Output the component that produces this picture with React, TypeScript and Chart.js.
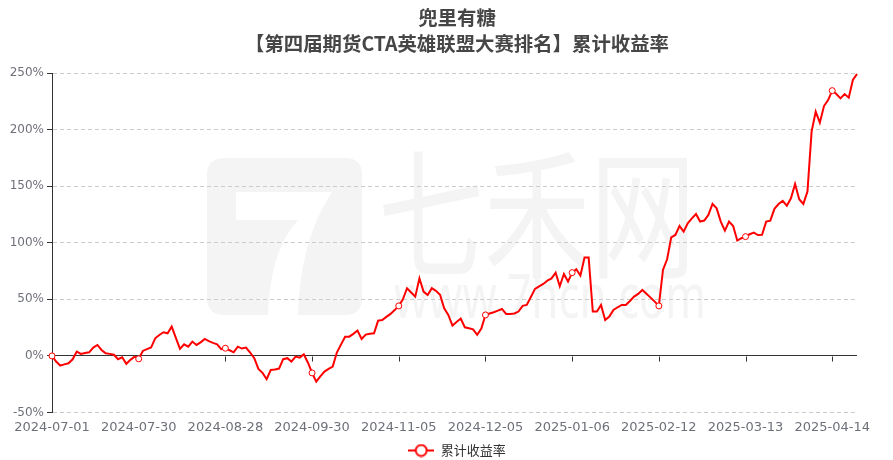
import { useEffect, useRef } from "react";
import { Chart, registerables } from "chart.js";

Chart.register(...registerables);

const TITLE_LINES = ["兜里有糖", "【第四届期货CTA英雄联盟大赛排名】累计收益率"];
const SERIES_NAME = "累计收益率";
const WATERMARK_CN = "七禾网";
const WATERMARK_URL = "www.7hcn.com";

const DATES = [
  "2024-07-01","2024-07-02","2024-07-03","2024-07-04","2024-07-05","2024-07-08","2024-07-09","2024-07-10","2024-07-11","2024-07-12",
  "2024-07-15","2024-07-16","2024-07-17","2024-07-18","2024-07-19","2024-07-22","2024-07-23","2024-07-24","2024-07-25","2024-07-26",
  "2024-07-29","2024-07-30","2024-07-31","2024-08-01","2024-08-02","2024-08-05","2024-08-06","2024-08-07","2024-08-08","2024-08-09",
  "2024-08-12","2024-08-13","2024-08-14","2024-08-15","2024-08-16","2024-08-19","2024-08-20","2024-08-21","2024-08-22","2024-08-23",
  "2024-08-26","2024-08-27","2024-08-28","2024-08-29","2024-08-30","2024-09-02","2024-09-03","2024-09-04","2024-09-05","2024-09-06",
  "2024-09-09","2024-09-10","2024-09-11","2024-09-12","2024-09-13","2024-09-18","2024-09-19","2024-09-20","2024-09-23","2024-09-24",
  "2024-09-25","2024-09-26","2024-09-27","2024-09-30","2024-10-08","2024-10-09","2024-10-10","2024-10-11","2024-10-14","2024-10-15",
  "2024-10-16","2024-10-17","2024-10-18","2024-10-21","2024-10-22","2024-10-23","2024-10-24","2024-10-25","2024-10-28","2024-10-29",
  "2024-10-30","2024-10-31","2024-11-01","2024-11-04","2024-11-05","2024-11-06","2024-11-07","2024-11-08","2024-11-11","2024-11-12",
  "2024-11-13","2024-11-14","2024-11-18","2024-11-19","2024-11-20","2024-11-21","2024-11-22","2024-11-25","2024-11-26","2024-11-27",
  "2024-11-28","2024-11-29","2024-12-02","2024-12-03","2024-12-04","2024-12-05","2024-12-06","2024-12-09","2024-12-10","2024-12-11",
  "2024-12-12","2024-12-13","2024-12-16","2024-12-17","2024-12-18","2024-12-19","2024-12-20","2024-12-23","2024-12-24","2024-12-25",
  "2024-12-26","2024-12-27","2024-12-30","2024-12-31","2025-01-02","2025-01-03","2025-01-06","2025-01-07","2025-01-08","2025-01-09",
  "2025-01-10","2025-01-13","2025-01-14","2025-01-15","2025-01-16","2025-01-17","2025-01-20","2025-01-21","2025-01-22","2025-01-23",
  "2025-01-24","2025-01-27","2025-02-05","2025-02-06","2025-02-07","2025-02-10","2025-02-11","2025-02-12","2025-02-13","2025-02-14",
  "2025-02-17","2025-02-18","2025-02-19","2025-02-20","2025-02-21","2025-02-24","2025-02-25","2025-02-26","2025-02-27","2025-02-28",
  "2025-03-03","2025-03-04","2025-03-05","2025-03-06","2025-03-07","2025-03-10","2025-03-11","2025-03-12","2025-03-13","2025-03-14",
  "2025-03-17","2025-03-18","2025-03-19","2025-03-20","2025-03-21","2025-03-24","2025-03-25","2025-03-26","2025-03-27","2025-03-28",
  "2025-03-31","2025-04-01","2025-04-02","2025-04-03","2025-04-07","2025-04-08","2025-04-09","2025-04-10","2025-04-11","2025-04-14",
  "2025-04-15","2025-04-16","2025-04-17","2025-04-18","2025-04-21","2025-04-22"
];

const RETURNS = [
  0, -5, -8.5, -7.5, -6.5, -3, 3.8, 1.8, 2.5, 3.2,
  7.4, 9.7, 5.3, 2.4, 1.8, 1, -2.9, -1.2, -7, -3.5,
  -0.6, -2.6, 4.4, 6, 7.4, 15.6, 18.5, 20.9, 20, 25.9,
  16, 6.2, 10.3, 8.2, 12.7, 9.7, 12, 15, 13, 11.5,
  10.3, 5.9, 6.8, 5, 3.2, 8.2, 6.5, 7.4, 3, -2,
  -11.5, -15, -20.6, -12.4, -12, -11.2, -2.9, -2, -5, -0.6,
  -1.5, 1.5, -6, -15, -22.7, -18, -13.8, -11.5, -9.4, 3,
  10, 17, 17, 19.5, 22.4, 15, 18.8, 19.5, 20, 31.2,
  31.8, 34.5, 37.1, 40.5, 44.2, 50, 59.8, 56, 52.4, 68.6,
  56.8, 53.9, 59.8, 57.5, 54, 42.1, 36.2, 26.8, 30, 33,
  25.3, 24.5, 23.5, 18.6, 24.1, 36.2, 37.5, 38.6, 40, 41.5,
  37.1, 37, 37.5, 39.2, 44.2, 45, 52, 59.2, 61.5, 63.6,
  66.5, 68.5, 73.6, 61.5, 72.4, 65.7, 73.6, 76.6, 71, 86.9,
  86.9, 39.2, 39.2, 45, 31.8, 34.7, 40.6, 43, 45, 45,
  48.5, 52.4, 54.8, 58.3, 55, 51.5, 48, 44.2, 76, 85.4,
  104.8, 106.9, 114.8, 109.8, 117.2, 121.5, 125.4, 118.7, 119.6, 124.6,
  134.3, 130.4, 118.7, 110.7, 118.7, 114.8, 101.9, 104, 105.4, 107.5,
  109, 106.8, 107, 118.7, 119.5, 130, 134.2, 137, 132.7, 139.3,
  152, 138.5, 134.3, 145.2, 198.2, 215.8, 206.1, 220.8, 226.1, 234.4,
  231.4, 227.6, 231.4, 228.2, 243.8, 249.1
];

const Y_MIN = -50;
const Y_MAX = 250;
const Y_STEP = 50;
const LABEL_EVERY = 21;

const RED = "#ff0000";
const AXIS_DARK = "#333333";
const LABEL_GRAY = "#6E7079";
const GRID_GRAY = "#cccccc";
const WM_GRAY = "#f4f4f4";
const CJK = '"Noto Sans CJK SC", "Noto Sans", sans-serif';
const LATIN = '"DejaVu Sans", sans-serif';

function makeLegendIcon(): HTMLCanvasElement {
  const c = document.createElement("canvas");
  c.width = 26;
  c.height = 14;
  const g = c.getContext("2d")!;
  g.strokeStyle = RED;
  g.lineWidth = 2;
  g.beginPath();
  g.moveTo(0, 7);
  g.lineTo(26, 7);
  g.stroke();
  g.beginPath();
  g.arc(13, 7, 5.5, 0, Math.PI * 2);
  g.fillStyle = "#ffffff";
  g.fill();
  g.stroke();
  return c;
}

const watermarkPlugin = {
  id: "watermark",
  beforeDraw(chart: any) {
    const { ctx } = chart;
    ctx.save();
    ctx.fillStyle = WM_GRAY;
    ctx.beginPath();
    ctx.moveTo(225, 158);
    ctx.lineTo(345, 158);
    ctx.quadraticCurveTo(362, 158, 362, 175);
    ctx.lineTo(362, 298);
    ctx.quadraticCurveTo(362, 315, 345, 315);
    ctx.lineTo(225, 315);
    ctx.quadraticCurveTo(207, 315, 207, 298);
    ctx.lineTo(207, 175);
    ctx.quadraticCurveTo(207, 158, 225, 158);
    ctx.closePath();
    ctx.fill();
    ctx.fillStyle = "#ffffff";
    ctx.beginPath();
    ctx.moveTo(236, 192);
    ctx.lineTo(332, 192);
    ctx.quadraticCurveTo(300, 240, 298, 315);
    ctx.lineTo(268, 315);
    ctx.quadraticCurveTo(270, 250, 298, 220);
    ctx.lineTo(236, 220);
    ctx.closePath();
    ctx.fill();
    ctx.fillStyle = WM_GRAY;
    ctx.textAlign = "center";
    ctx.textBaseline = "middle";
    ctx.font = `400 140px ${CJK}`;
    ctx.fillText(WATERMARK_CN, 537, 214, 318);
    ctx.textBaseline = "alphabetic";
    ctx.font = `400 62px "Noto Sans", sans-serif`;
    ctx.fillText(WATERMARK_URL, 550, 318, 312);
    ctx.restore();
  },
};

const zeroAxisTicksPlugin = {
  id: "zeroAxisTicks",
  beforeDatasetsDraw(chart: any) {
    const { ctx, scales } = chart;
    const x = scales.x;
    const y = scales.y;
    const y0 = Math.round(y.getPixelForValue(0)) + 0.5;
    ctx.save();
    ctx.strokeStyle = AXIS_DARK;
    ctx.lineWidth = 1;
    for (let i = LABEL_EVERY; i < DATES.length; i += LABEL_EVERY) {
      const px = Math.round(x.getPixelForValue(i)) + 0.5;
      ctx.beginPath();
      ctx.moveTo(px, y0);
      ctx.lineTo(px, y0 + 5);
      ctx.stroke();
    }
    ctx.restore();
  },
};

// Centre the title and legend the way the reference does (slightly right of canvas centre)
const boxShiftPlugin = {
  id: "boxShift",
  afterLayout(chart: any) {
    const targetCenter = 457;
    const l = chart.legend;
    if (l) {
      const d = targetCenter - (l.left + l.right) / 2;
      l.left += d;
      l.right += d;
      l.top += 7;
      l.bottom += 7;
    }
    const t = chart.titleBlock;
    if (t) {
      const d = targetCenter - (t.left + t.right) / 2;
      t.left += d;
      t.right += d;
    }
  },
};

export default function App() {
  const canvasRef = useRef<HTMLCanvasElement | null>(null);

  useEffect(() => {
    document.body.style.margin = "0";
    const canvas = canvasRef.current;
    if (!canvas) return;
    const icon = makeLegendIcon();

    const chart = new Chart(canvas, {
      type: "line",
      data: {
        labels: DATES,
        datasets: [
          {
            label: SERIES_NAME,
            data: RETURNS,
            borderColor: RED,
            backgroundColor: RED,
            borderWidth: 2,
            tension: 0,
            fill: false,
            pointRadius: (ctx: any) =>
              ctx.dataIndex % LABEL_EVERY === 0 && ctx.dataIndex < RETURNS.length - 1 ? 3 : 0,
            pointHoverRadius: 0,
            pointBackgroundColor: "#ffffff",
            pointBorderColor: RED,
            pointBorderWidth: 1,
          },
        ],
      },
      options: {
        animation: false,
        responsive: false,
        devicePixelRatio: 1,
        layout: { padding: { left: 0, right: 36, top: 0, bottom: 0 } },
        plugins: {
          title: {
            display: true,
            text: TITLE_LINES,
            color: "#464646",
            font: { size: 19.4, weight: "bold", family: CJK, lineHeight: 26 / 19.4 },
            padding: { top: 5, bottom: 16 },
          },
          legend: {
            display: true,
            position: "bottom",
            labels: {
              usePointStyle: true,
              pointStyle: icon as any,
              pointStyleWidth: 26,
              boxHeight: 12,
              padding: 4,
              color: "#333333",
              font: { size: 13, family: CJK },
            },
          },
          tooltip: { enabled: false },
        },
        scales: {
          x: {
            type: "category",
            grid: { display: false, drawTicks: false },
            border: { display: false },
            ticks: {
              autoSkip: false,
              maxRotation: 0,
              minRotation: 0,
              padding: 7,
              color: LABEL_GRAY,
              font: { size: 13, family: LATIN },
              callback: (_v: any, i: number) => (i % LABEL_EVERY === 0 ? DATES[i] : ""),
            },
            afterFit: (s: any) => {
              s.height = 20.5;
            },
          },
          y: {
            min: Y_MIN,
            max: Y_MAX,
            ticks: {
              stepSize: Y_STEP,
              padding: 3,
              color: LABEL_GRAY,
              font: { size: 12, family: LATIN },
              callback: (v: any) => `${v}%`,
            },
            grid: {
              color: (ctx: any) => (ctx.tick && ctx.tick.value === 0 ? AXIS_DARK : GRID_GRAY),
              lineWidth: 1,
              drawTicks: true,
              tickLength: 5,
              tickColor: AXIS_DARK,
            },
            border: {
              display: true,
              color: AXIS_DARK,
              width: 1,
              dash: (ctx: any) => (ctx.tick && ctx.tick.value !== 0 ? [4, 3] : []),
            },
            afterFit: (s: any) => {
              s.width = 52;
            },
          },
        },
      } as any,
      plugins: [watermarkPlugin, zeroAxisTicksPlugin, boxShiftPlugin],
    });

    return () => chart.destroy();
  }, []);

  return <canvas ref={canvasRef} width={893} height={460} style={{ display: "block" }} />;
}
